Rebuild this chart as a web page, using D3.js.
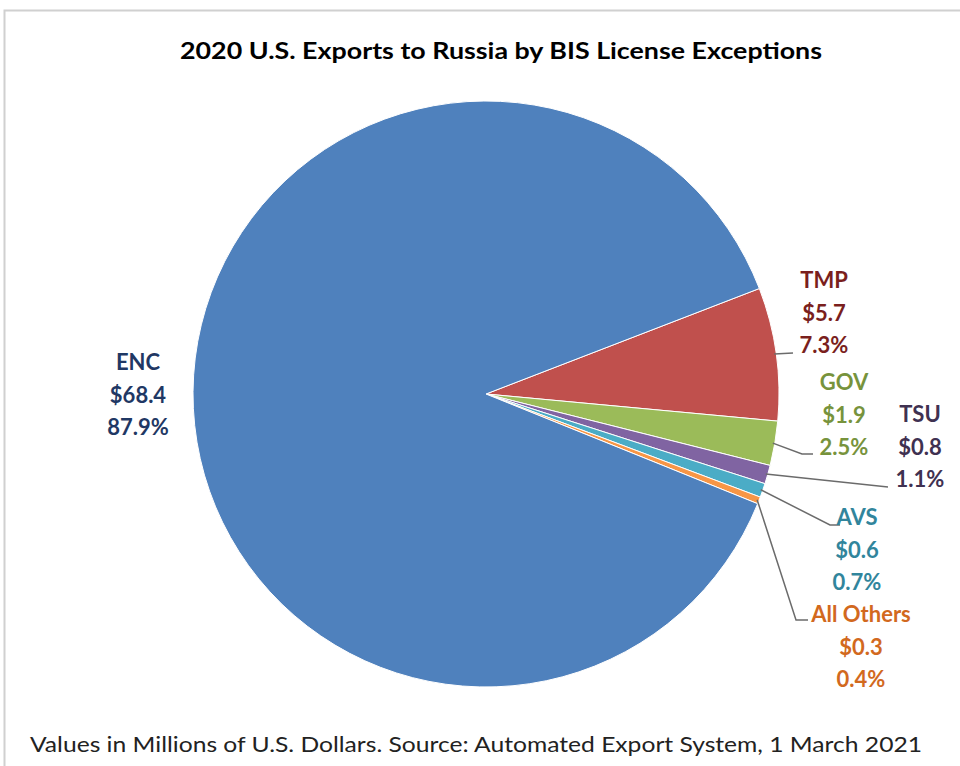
<!DOCTYPE html>
<html>
<head>
<meta charset="utf-8">
<script src="https://cdn.jsdelivr.net/npm/d3@7"></script>
<style>
  body { margin: 0; background: #fff; }
  svg { display: block; }
</style>
</head>
<body>
<svg class="chart" width="960" height="766"></svg>
<script>
// data (millions of U.S. dollars), drawn clockwise starting with TMP
var codes = ["TMP", "GOV", "TSU", "AVS", "All Others", "ENC"];
var values = [5.7, 1.9, 0.8, 0.6, 0.3, 68.4];
var percents = ["7.3%", "2.5%", "1.1%", "0.7%", "0.4%", "87.9%"];

var fills = ["#C0504D", "#9BBB59", "#8064A2", "#4BACC6", "#F79646", "#4F81BD"];
var textColors = ["#7A1F1D", "#77933C", "#3F3151", "#31859C", "#D2691E", "#1F3864"];

// label anchor (centre x, first baseline y) and elbow of the leader line
var labelPos = [[824, 288], [844, 390], [920, 422], [857, 525], [861, 622], [138, 370]];
var leaderEnd = [[[793, 353]], [[802, 454], [813, 454]], [[888, 487]], [[830, 525], [840, 525]], [[796, 620], [808, 620]], null];

var svg = d3.select(".chart");
var font = "Lato, 'Open Sans', sans-serif";

// frame
svg.append("rect")
    .attr("x", 4.5).attr("y", 10.5)
    .attr("width", 970).attr("height", 800)
    .attr("fill", "none")
    .attr("stroke", "#d0d0d0")
    .attr("stroke-width", 2);

svg.append("text")
    .attr("x", 180).attr("y", 59)
    .attr("textLength", 642)
    .attr("lengthAdjust", "spacingAndGlyphs")
    .style("font-family", font)
    .style("font-size", "22px")
    .style("font-weight", "bold")
    .attr("fill", "#000")
    .text("2020 U.S. Exports to Russia by BIS License Exceptions");

svg.append("text")
    .attr("x", 30).attr("y", 752)
    .attr("textLength", 892)
    .attr("lengthAdjust", "spacingAndGlyphs")
    .style("font-family", font)
    .style("font-size", "21px")
    .attr("fill", "#222")
    .text("Values in Millions of U.S. Dollars. Source: Automated Export System, 1 March 2021");

var cx = 486, cy = 394, radius = 293;
var start = 68.9 * Math.PI / 180;

var pie = d3.pie().sort(null)
    .startAngle(start)
    .endAngle(start + 2 * Math.PI);

var arc = d3.arc().innerRadius(0).outerRadius(radius);

var g = svg.append("g").attr("transform", "translate(" + cx + "," + cy + ")");
var arcs = pie(values);

g.selectAll("path")
    .data(arcs)
    .enter()
    .append("path")
    .attr("d", arc)
    .attr("fill", (d, i) => fills[i])
    .attr("stroke", "#fff")
    .attr("stroke-width", 1);

// leader lines from the slice edge to the labels
arcs.forEach((d, i) => {
    if (!leaderEnd[i]) return;
    var mid = (d.startAngle + d.endAngle) / 2;
    var r0 = radius - 2;
    var pts = [[cx + r0 * Math.sin(mid), cy - r0 * Math.cos(mid)]].concat(leaderEnd[i]);
    svg.append("path")
        .attr("d", d3.line()(pts))
        .attr("fill", "none")
        .attr("stroke", "#6b6b6b")
        .attr("stroke-width", 1.5);
});

// labels
arcs.forEach((d, i) => {
    var t = svg.append("text")
        .attr("x", labelPos[i][0])
        .attr("y", labelPos[i][1])
        .attr("text-anchor", "middle")
        .style("font-family", font)
        .style("font-size", "22px")
        .style("font-weight", "bold")
        .attr("fill", textColors[i]);
    [codes[i], "$" + values[i].toFixed(1), percents[i]].forEach((s, k) => {
        t.append("tspan")
            .attr("x", labelPos[i][0])
            .attr("dy", k == 0 ? 0 : 32.5)
            .text(s);
    });
});
</script>
</body>
</html>
